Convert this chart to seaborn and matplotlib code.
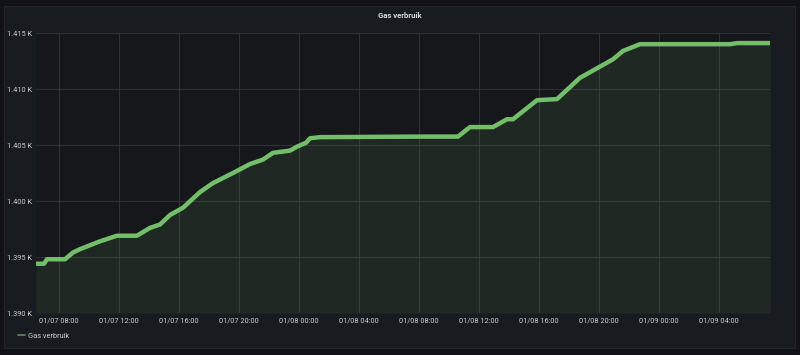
import pandas as pd
import matplotlib
matplotlib.use("Agg")
import matplotlib.pyplot as plt
import matplotlib.dates as mdates
from matplotlib.patches import Rectangle
from matplotlib.ticker import FuncFormatter
import seaborn as sns

# Gas meter readings (m3)
times = ["2021-01-07 06:28", "2021-01-07 07:00", "2021-01-07 07:12", "2021-01-07 08:24",
         "2021-01-07 08:56", "2021-01-07 09:24", "2021-01-07 10:44", "2021-01-07 11:52",
         "2021-01-07 13:12", "2021-01-07 14:04", "2021-01-07 14:44", "2021-01-07 15:24",
         "2021-01-07 16:16", "2021-01-07 17:24", "2021-01-07 18:16", "2021-01-07 19:36",
         "2021-01-07 20:44", "2021-01-07 21:36", "2021-01-07 22:16", "2021-01-07 23:24",
         "2021-01-07 23:52", "2021-01-08 00:28", "2021-01-08 00:44", "2021-01-08 01:24",
         "2021-01-08 08:04", "2021-01-08 10:36", "2021-01-08 11:24", "2021-01-08 12:56",
         "2021-01-08 13:52", "2021-01-08 14:16", "2021-01-08 15:52", "2021-01-08 17:12",
         "2021-01-08 18:44", "2021-01-08 20:04", "2021-01-08 20:56", "2021-01-08 21:36",
         "2021-01-08 22:44", "2021-01-09 04:44", "2021-01-09 05:12", "2021-01-09 07:24"]
values = [1394.4, 1394.4, 1394.8, 1394.8,
          1395.4, 1395.7, 1396.4, 1396.9,
          1396.9, 1397.6, 1397.9, 1398.75,
          1399.4, 1400.8, 1401.6, 1402.5,
          1403.3, 1403.7, 1404.3, 1404.5,
          1404.85, 1405.2, 1405.6, 1405.7,
          1405.75, 1405.75, 1406.6, 1406.6,
          1407.3, 1407.3, 1409.0, 1409.1,
          1411.0, 1412.0, 1412.65, 1413.4,
          1414.0, 1414.0, 1414.1, 1414.1]

y_ticks = [1390, 1395, 1400, 1405, 1410, 1415]

df = pd.DataFrame({"time": pd.to_datetime(times), "value": values})

sns.set_style("dark", {"axes.facecolor": "#16171b", "figure.facecolor": "#111217"})
plt.rcParams["font.family"] = ["Roboto", "DejaVu Sans"]

fig = plt.figure(figsize=(8, 3.55), dpi=100)
# panel background behind everything
panel = Rectangle((4 / 800, 1 - 348 / 355), 791 / 800, 342 / 355,
                  transform=fig.transFigure, facecolor="#181b1f",
                  edgecolor="#24262b", linewidth=0.8, zorder=-10)
fig.add_artist(panel)
ax = fig.add_axes([36 / 800, 1 - 313 / 355, 734 / 800, 280 / 355])
ax.set_zorder(1)
ax.set_facecolor("#16171b")

green = "#73bf69"
sns.lineplot(data=df, x="time", y="value", ax=ax, color=green, linewidth=3.2,
             label="Gas verbruik", zorder=3)
ax.fill_between(df["time"], df["value"], 1390, color=green, alpha=0.1, linewidth=0, zorder=2)

ax.set_xlim(df["time"].iloc[0], df["time"].iloc[-1])
ax.set_ylim(1390, 1415)
ax.set_yticks(y_ticks)
ax.yaxis.set_major_formatter(FuncFormatter(lambda v, p: f"{v / 1000:.3f} K"))
ax.xaxis.set_major_locator(mdates.HourLocator(byhour=[0, 4, 8, 12, 16, 20]))
ax.xaxis.set_major_formatter(mdates.DateFormatter("%m/%d %H:%M"))
ax.set_xlabel("")
ax.set_ylabel("")

ax.grid(True, color="#2f3136", linewidth=0.8)
for s in ax.spines.values():
    s.set_visible(False)
ax.tick_params(axis="both", colors="#c7d0d9", labelsize=5.3, length=0, pad=3)

fig.text(0.5, 1 - 15 / 355, "Gas verbruik", ha="center", va="center",
         color="#d8d9da", fontsize=5.6, fontweight="bold")

leg = ax.legend(loc="upper left", bbox_to_anchor=(-21 / 734, -0.06), frameon=False,
                fontsize=5.3, handlelength=0.9, handletextpad=0.5, borderaxespad=0)
for t in leg.get_texts():
    t.set_color("#c7d0d9")
for h in leg.get_lines():
    h.set_linewidth(1.2)
    h.set_color("#5f8f58")

fig.savefig("out.png", dpi=100, facecolor=fig.get_facecolor())
